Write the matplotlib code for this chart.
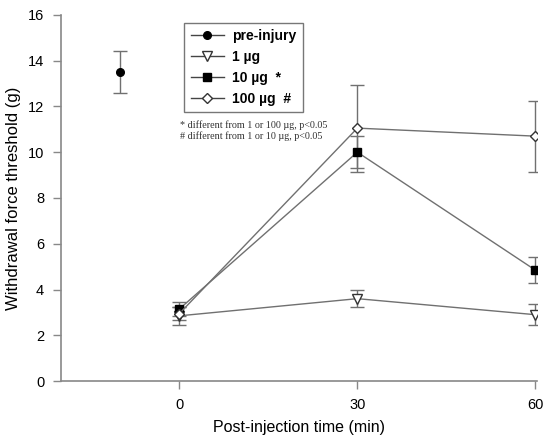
import matplotlib
matplotlib.use("Agg")
import matplotlib.pyplot as plt
from matplotlib.lines import Line2D

plt.rcParams['font.family'] = ['Liberation Sans', 'DejaVu Sans']

pre_x = [-10]
pre_y = [13.5]
pre_err = [0.9]

times = [0, 30, 60]
ug1 = [2.85, 3.6, 2.9]
ug1_err = [0.4, 0.38, 0.45]
ug10 = [3.15, 10.0, 4.85]
ug10_err = [0.3, 0.7, 0.57]
ug100 = [2.95, 11.05, 10.7]
ug100_err = [0.3, 1.9, 1.55]

labels = ['pre-injury', '1 µg', '10 µg  *', '100 µg  #']
xticks = [0, 30, 60]
yticks = [0, 2, 4, 6, 8, 10, 12, 14, 16]

fig = plt.figure(figsize=(5.43, 4.36), dpi=100)
ax = fig.add_axes([0.112, 0.126, 0.877, 0.840])

line_c = '#707070'
err_kw = dict(ecolor=line_c, elinewidth=1.0, capsize=5, capthick=1.0)

ax.errorbar(pre_x, pre_y, yerr=pre_err, fmt='o', color=line_c, mfc='black', mec='black',
            ms=5.5, **err_kw)
ax.errorbar(times, ug1, yerr=ug1_err, fmt='-v', color=line_c, mfc='white', mec='#333333',
            ms=6.5, lw=1.0, **err_kw)
ax.errorbar(times, ug10, yerr=ug10_err, fmt='-s', color=line_c, mfc='black', mec='black',
            ms=5.5, lw=1.0, **err_kw)
ax.errorbar(times, ug100, yerr=ug100_err, fmt='-D', color=line_c, mfc='white', mec='#333333',
            ms=5.5, lw=1.0, **err_kw)

handles = [
    Line2D([], [], color='#444444', lw=1.0, marker='o', mfc='black', mec='black', ms=5.5),
    Line2D([], [], color='#444444', lw=1.0, marker='v', mfc='white', mec='#333333', ms=6.5),
    Line2D([], [], color='#444444', lw=1.0, marker='s', mfc='black', mec='black', ms=5.5),
    Line2D([], [], color='#444444', lw=1.0, marker='D', mfc='white', mec='#333333', ms=5.5),
]

ax.set_xlim(-20, 60.3)
ax.set_ylim(0, 16)
ax.set_xticks(xticks)
ax.set_yticks(yticks)
ax.spines['top'].set_visible(False)
ax.spines['right'].set_visible(False)
for s in ['left', 'bottom']:
    ax.spines[s].set_color('#888888')
    ax.spines[s].set_linewidth(1.2)
ax.tick_params(direction='out', length=6, width=1, color='#888888', labelsize=10.5, pad=6)

ax.set_xlabel('Post-injection time (min)', fontsize=11.5, labelpad=6)
ax.set_ylabel('Withdrawal force threshold (g)', fontsize=12, labelpad=5)

leg = ax.legend(handles, labels, loc='upper left', bbox_to_anchor=(0.245, 0.998), frameon=True,
                fancybox=False, edgecolor='#555555', handlelength=2.4, borderpad=0.45,
                labelspacing=0.5, handletextpad=0.6,
                prop={'weight': 'bold', 'size': 10})
leg.get_frame().set_linewidth(1.0)

ax.text(0.25, 0.70, '* different from 1 or 100 µg, p<0.05', transform=ax.transAxes,
        fontsize=7.3, family='Liberation Serif', color='#333333', va='center')
ax.text(0.25, 0.669, '# different from 1 or 10 µg, p<0.05', transform=ax.transAxes,
        fontsize=7.3, family='Liberation Serif', color='#333333', va='center')

fig.savefig('out.png', dpi=100)
